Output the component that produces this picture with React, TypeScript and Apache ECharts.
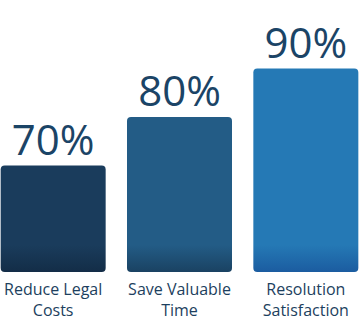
import React, { useEffect, useRef } from "react";
import * as echarts from "echarts";

const categories = ["Reduce Legal\nCosts", "Save Valuable\nTime", "Resolution\nSatisfaction"];
const values = [70, 80, 90];
const barColors = ["#1a3c5c", "#235c86", "#2579b5"];
const barBottomColors = ["#132d47", "#1a4262", "#1b5ca0"];

export default function App() {
  const ref = useRef<HTMLDivElement>(null);
  useEffect(() => {
    if (!ref.current) return;
    const chart = echarts.init(ref.current, null, { renderer: "svg" });
    chart.setOption({
      animation: false,
      grid: { left: 0, right: 0, top: 20, bottom: 49, containLabel: false },
      xAxis: {
        type: "category",
        data: categories,
        axisLine: { show: false },
        axisTick: { show: false },
        axisLabel: {
          margin: 6,
          fontFamily: "Open Sans",
          fontSize: 16,
          lineHeight: 21,
          color: "#1d3f5e",
          interval: 0,
        },
      },
      yAxis: {
        type: "value",
        min: 48,
        max: 100,
        show: false,
        splitLine: { show: false },
      },
      series: [
        {
          type: "bar",
          barWidth: 105,
          data: values.map((v, i) => ({
            value: v,
            itemStyle: {
              color: new echarts.graphic.LinearGradient(
                0, 245, 0, 272,
                [
                  { offset: 0, color: barColors[i] },
                  { offset: 1, color: barBottomColors[i] },
                ],
                true
              ),
            },
          })),
          itemStyle: { borderRadius: 4 },
          label: {
            show: true,
            position: "top",
            distance: 6,
            formatter: "{c}%",
            fontFamily: "Open Sans",
            fontSize: 42,
            color: "#1b4466",
          },
        },
      ],
    });
    return () => chart.dispose();
  }, []);
  return (
    <div style={{ position: "absolute", left: 0, top: 0, width: 359, height: 321, overflow: "hidden" }}>
      <div ref={ref} style={{ width: 379, height: 321, position: "absolute", left: -10, top: 0 }} />
    </div>
  );
}
